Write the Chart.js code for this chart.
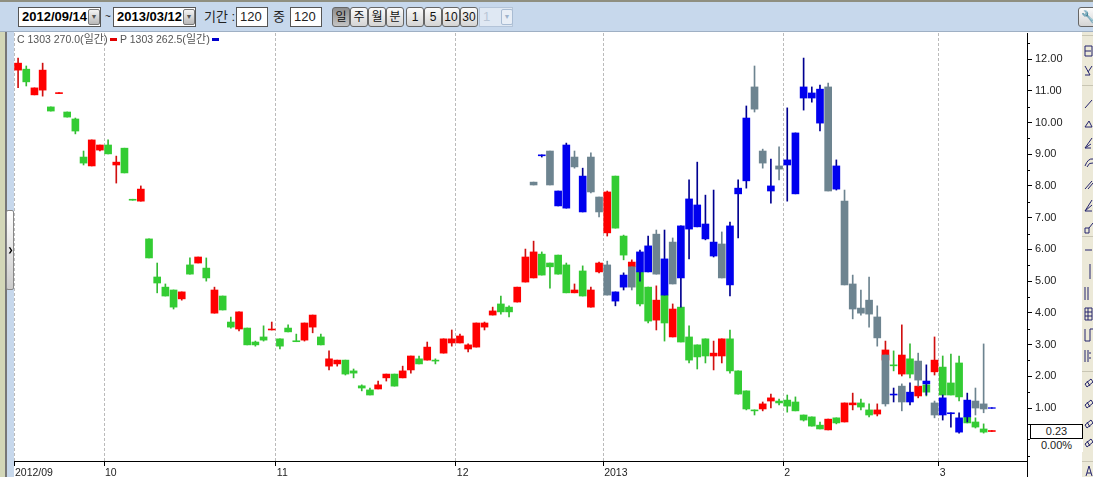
<!DOCTYPE html>
<html>
<head>
<meta charset="utf-8">
<title>C 1303 270.0 / P 1303 262.5</title>
<script src="https://cdn.jsdelivr.net/npm/chart.js@4/dist/chart.umd.min.js"></script>
<style>
	html, body { margin: 0; padding: 0; background: #fff; overflow: hidden; }
	body { position: relative; width: 1093px; height: 477px; font-family: "Liberation Sans", "Noto Sans CJK KR", sans-serif; }
	.abs { position: absolute; box-sizing: border-box; white-space: nowrap; }
	#bar { left: 0; top: 0; width: 1093px; height: 32px; background: #c7d8ec; border-top: 2px solid #8f8f80; border-bottom: 1px solid #9fb0c4; }
	.box { background: #fff; border: 1px solid #555; height: 20px; top: 7px; line-height: 18px; font-size: 13px; padding-left: 3px; color: #222; }
	.date { font-weight: bold; font-size: 13px; color: #000; }
	.drop { top: 9px; width: 12px; height: 16px; background: linear-gradient(#f4f4f4, #b8b8b8); border: 1px solid #777; border-radius: 2px; font-size: 7px; line-height: 14px; text-align: center; color: #555; }
	.lab { top: 7px; font-size: 13px; line-height: 20px; color: #222; }
	.btn { top: 7px; height: 20px; width: 18px; background: linear-gradient(#fbfbfb, #d4d4d4); border: 1px solid #666; border-radius: 3px; font-size: 12px; line-height: 18px; text-align: center; color: #111; }
	.btn.on { background: linear-gradient(#8d8d8d, #c4c4c4); }
	#leftA { left: 0; top: 0; width: 5px; height: 477px; background: #d3d7b8; }
	#leftB { left: 5px; top: 0; width: 2px; height: 477px; background: #777; }
	#leftC { left: 7px; top: 0; width: 7px; height: 477px; background: #c7d8ec; }
	#grip { left: 6px; top: 210px; width: 8px; height: 80px; background: linear-gradient(#fff, #ccc); border: 1px solid #888; border-radius: 2px; font-size: 6px; line-height: 78px; text-align: center; font-weight: bold; color: #000; }
	#side { left: 1082px; top: 32px; width: 11px; height: 445px; background: #ece9d8; }
	.leg { top: 32px; font-size: 10.5px; line-height: 15px; color: #555; }
	.leg b { font-weight: normal; font-size: 11px; }
	.mark { top: 38px; width: 7px; height: 3px; }
	#lastBox { left: 1030px; top: 424px; width: 53px; height: 15px; background: #fff; border: 1px solid #000; font-size: 11px; line-height: 13px; text-align: center; color: #222; }
	#lastPct { left: 1030px; top: 439px; width: 53px; font-size: 11px; line-height: 13px; text-align: center; color: #222; background: #fff; }
</style>
</head>
<body>
	<div class="abs" id="leftA"></div>
	<div class="abs" id="leftB"></div>
	<div class="abs" id="leftC"></div>
	<canvas class="abs" id="chart" width="1084" height="445" style="left:0;top:32px;"></canvas>
	<div class="abs" id="grip">&#10095;</div>

	<div class="abs" id="bar"></div>
	<div class="abs box date" style="left:18px;width:83px;">2012/09/14</div>
	<div class="abs drop" style="left:88px;">&#9660;</div>
	<div class="abs lab" style="left:105px;font-size:10px;">~</div>
	<div class="abs box date" style="left:113px;width:83px;">2013/03/12</div>
	<div class="abs drop" style="left:183px;">&#9660;</div>
	<div class="abs lab" style="left:204px;">기간 :</div>
	<div class="abs box" style="left:236px;width:32px;">120</div>
	<div class="abs lab" style="left:273px;">중</div>
	<div class="abs box" style="left:290px;width:32px;">120</div>
	<div class="abs btn on" style="left:332px;">일</div>
	<div class="abs btn" style="left:350px;">주</div>
	<div class="abs btn" style="left:368px;">월</div>
	<div class="abs btn" style="left:386px;">분</div>
	<div class="abs btn" style="left:406px;">1</div>
	<div class="abs btn" style="left:424px;">5</div>
	<div class="abs btn" style="left:442px;">10</div>
	<div class="abs btn" style="left:460px;">30</div>
	<div class="abs box" style="left:479px;width:34px;background:#dfe8f3;border-color:#b4c4d8;color:#b9c6d6;">1</div>
	<div class="abs drop" style="left:501px;background:#e8eef6;border-color:#a9bcd3;color:#9fb3cc;">&#9660;</div>
	<div class="abs btn" style="left:1078px;width:20px;">&#128295;</div>

	<div class="abs leg" style="left:17px;">C 1303 270.0<b>(일간)</b></div>
	<div class="abs mark" style="left:110px;background:#e00000;"></div>
	<div class="abs leg" style="left:120px;">P 1303 262.5<b>(일간)</b></div>
	<div class="abs mark" style="left:212px;background:#0000cc;"></div>

	<div class="abs" id="side">
		<svg width="11" height="445" fill="none" stroke="#24246e" stroke-width="1">
			<path d="M0 3.5H11M0 53.5H11M0 204.5H11M0 339.5H11M0 429.5H11" stroke="#c9c6b4"/>
			<path d="M3 14H10V24H3ZM3 19H9"/>
			<path d="M3 34L8 43H3M10 34L6 40"/>
			<path d="M3 76L10 68"/>
			<path d="M3 95H10L7 89Z"/>
			<path d="M3 116L10 106M3 116L9 112M3 116H9"/>
			<path d="M3 134Q6 126 11 127M5 135Q7 130 11 131"/>
			<path d="M3 157L10 149M6 157L11 151"/>
			<path d="M3 179L10 168M3 179L10 173M3 179H10"/>
			<path d="M3 196H7V201H3ZM7 196L11 191"/>
			<path d="M3 218H10"/>
			<path d="M8 232V247"/>
			<path d="M3 255V268M6 255V268"/>
			<path d="M3 276H10V288H3ZM3 280H10M3 284H10M6 276V288"/>
			<path d="M3 297V309H8M8 309V297M8 297H11"/>
			<path d="M3 318V330M6 318V330M8 320V322M8 325V327"/>
			<path d="M3 352L9 347L11 350L5 355ZM5 349L8 354"/>
			<path d="M3 373L9 368L11 371L5 376ZM5 370L8 375"/>
			<path d="M3 393L9 388L11 391L5 396ZM5 390L8 395"/>
			<path d="M3 412L9 407L11 410L5 415ZM5 409L8 414"/>
			<path d="M4 444L7 434L10 444M5 441H9"/>
		</svg>
	</div>
	<div class="abs" id="lastBox">0.23</div>
	<div class="abs" id="lastPct">0.00%</div>

<script>
// month starts on the day axis (grid line sits half a day before the candle)
const monthIndex = [0, 11, 32, 54, 72, 94, 113];
const monthText = ['2012/09', '10', '11', '12', '2013', '2', '3'];

const yLabels = [0, 1, 2, 3, 4, 5, 6, 7, 8, 9, 10, 11, 12];
const yHalf = [-0.5, 0.5, 1.5, 2.5, 3.5, 4.5, 5.5, 6.5, 7.5, 8.5, 9.5, 10.5, 11.5, 12.5];

// C 1303 270.0
const callHigh = [
	12.03, 11.78, 11.09, 11.87, 10.49, 10.94, 10.33, 10.14, 9.10, 9.45,
	9.29, 9.45, 8.94, 9.19, 7.58, 8.00, 6.33, 5.57, 4.91, 4.72,
	4.66, 5.73, 5.76, 5.73, 4.81, 4.53, 3.87, 4.03, 3.52, 3.11,
	3.59, 3.71, 3.18, 3.62, 3.33, 3.68, 3.93, 3.33, 2.80, 2.51,
	2.51, 2.23, 1.73, 1.63, 1.85, 2.07, 2.07, 2.32, 2.64, 2.64,
	3.08, 2.55, 3.18, 3.46, 3.33, 3.02, 3.68, 3.71, 4.18, 4.53,
	4.22, 4.81, 6.01, 6.26, 5.92, 5.57, 5.82, 5.57, 4.91, 5.48,
	4.81, 5.60, 7.84, 8.31, 6.45, 5.67, 5.29, 4.81, 4.85, 4.56,
	4.28, 4.18, 3.59, 2.99, 3.18, 3.11, 3.18, 3.46, 2.17, 1.54,
	0.94, 1.19, 1.44, 1.28, 1.41, 1.35, 0.78, 0.72, 0.56, 0.65,
	0.69, 1.16, 1.47, 1.28, 1.13, 1.13, 3.11, 2.80, 3.62, 3.02,
	1.69, 1.73, 3.24, 2.64, 2.70, 2.64, 0.72, 0.69, 0.50, 0.29
];
const callOpen = [
	11.65, 11.68, 10.87, 11.02, 10.49, 10.91, 10.33, 10.11, 8.91, 8.63,
	9.13, 9.29, 8.66, 9.19, 7.58, 7.52, 6.33, 5.13, 4.81, 4.72,
	4.44, 5.51, 5.57, 5.41, 3.99, 4.53, 3.71, 3.49, 3.52, 3.08,
	3.24, 3.46, 3.18, 3.52, 3.12, 3.14, 3.55, 3.24, 2.32, 2.39,
	2.51, 2.17, 1.70, 1.57, 1.60, 1.95, 2.07, 1.95, 2.20, 2.55,
	2.51, 2.51, 2.73, 3.05, 3.05, 2.86, 2.92, 3.55, 3.93, 4.28,
	4.18, 4.34, 4.97, 5.10, 5.85, 5.57, 5.82, 5.51, 4.63, 5.32,
	4.18, 5.29, 6.52, 8.31, 6.42, 5.45, 5.29, 4.81, 3.77, 4.56,
	3.24, 4.18, 3.24, 2.99, 3.18, 2.64, 2.64, 3.18, 2.17, 1.54,
	0.94, 0.97, 1.22, 1.22, 1.25, 1.19, 0.78, 0.72, 0.46, 0.31,
	0.69, 0.56, 1.10, 1.16, 0.94, 0.81, 2.51, 2.36, 2.07, 2.55,
	1.38, 1.73, 2.14, 2.29, 1.79, 2.42, 0.72, 0.56, 0.34, 0.26
];
const callClose = [
	11.87, 11.28, 11.09, 11.65, 10.36, 10.94, 10.17, 9.73, 8.72, 9.45,
	9.29, 9.01, 8.75, 8.41, 7.55, 7.90, 5.73, 4.94, 4.53, 4.18,
	4.66, 5.22, 5.76, 5.10, 4.72, 4.09, 3.55, 4.03, 2.99, 2.99,
	3.14, 3.49, 2.95, 3.40, 3.09, 3.68, 3.93, 2.99, 2.55, 2.51,
	2.07, 2.10, 1.63, 1.41, 1.73, 2.07, 1.69, 2.17, 2.64, 2.39,
	2.92, 2.48, 3.18, 3.18, 3.27, 2.99, 3.68, 3.68, 4.06, 4.03,
	4.03, 4.81, 5.76, 5.92, 5.19, 5.45, 5.22, 4.63, 4.72, 4.53,
	4.72, 5.57, 7.81, 6.67, 5.82, 5.60, 4.28, 3.74, 4.40, 3.68,
	4.12, 3.08, 2.51, 2.61, 2.64, 2.73, 3.18, 2.17, 1.44, 0.97,
	0.91, 1.13, 1.32, 1.16, 1.06, 0.91, 0.62, 0.43, 0.34, 0.65,
	0.53, 1.16, 1.16, 1.03, 0.78, 0.94, 2.83, 2.33, 2.67, 2.07,
	1.69, 1.50, 2.51, 1.41, 1.41, 1.35, 0.53, 0.40, 0.24, 0.29
];
const callLow = [
	11.10, 11.15, 10.87, 10.83, 10.36, 10.91, 10.17, 9.64, 8.66, 8.63,
	9.10, 9.01, 8.09, 8.41, 7.55, 7.52, 5.73, 4.63, 4.53, 4.12,
	4.40, 5.22, 5.57, 5.00, 3.99, 4.09, 3.52, 3.43, 2.99, 2.95,
	3.11, 3.46, 2.86, 3.40, 3.09, 3.11, 3.37, 2.99, 2.20, 2.32,
	2.04, 1.95, 1.54, 1.41, 1.60, 1.85, 1.69, 1.95, 2.10, 2.39,
	2.51, 2.39, 2.73, 2.95, 3.05, 2.77, 2.92, 3.46, 3.93, 3.96,
	3.87, 4.34, 4.97, 5.10, 5.19, 4.78, 5.22, 4.63, 4.63, 4.53,
	4.18, 5.26, 6.42, 6.67, 5.67, 5.45, 4.22, 3.68, 3.46, 3.11,
	3.24, 3.08, 2.42, 2.23, 2.42, 2.20, 2.42, 2.10, 1.44, 0.94,
	0.78, 0.91, 1.00, 1.10, 0.87, 0.91, 0.59, 0.43, 0.34, 0.31,
	0.50, 0.56, 0.94, 0.94, 0.72, 0.75, 2.51, 2.17, 2.01, 1.95,
	1.32, 1.38, 2.04, 1.41, 1.41, 1.22, 0.53, 0.37, 0.21, 0.26
];

// P 1303 262.5, listed only from its first trading day
const putStart = 63;
const putHigh = [
	8.12, 8.98, 9.10, 7.84, 9.35, 9.10, 8.56, 9.04, 7.65, 5.63,
	4.66, 5.26, 5.45, 5.98, 6.42, 6.61, 6.61, 6.36, 6.74, 8.19,
	8.75, 7.71, 7.87, 6.55, 6.86, 8.19, 10.52, 11.78, 9.16, 8.85,
	9.23, 10.46, 9.67, 12.03, 11.12, 11.18, 11.24, 8.82, 7.87, 5.19,
	4.72, 5.13, 4.22, 2.67, 1.63, 1.76, 1.79, 2.73, 2.36, 1.22,
	1.41, 0.85, 0.85, 1.47, 1.63, 3.02, 1.01
];
const putOpen = [
	8.12, 8.95, 9.10, 7.37, 7.30, 8.91, 7.18, 8.91, 7.65, 5.51,
	4.37, 4.81, 5.45, 5.29, 5.29, 6.48, 4.56, 6.23, 5.10, 6.64,
	6.71, 6.33, 5.79, 6.17, 4.88, 7.75, 8.16, 11.12, 9.10, 7.84,
	8.63, 8.66, 7.75, 10.77, 10.77, 9.98, 11.12, 7.90, 7.52, 4.91,
	4.15, 4.40, 3.87, 2.67, 1.41, 1.69, 1.19, 2.48, 1.76, 1.16,
	0.78, 0.82, 0.24, 0.72, 1.22, 1.13, 0.99
];
const putClose = [
	8.03, 8.98, 8.03, 7.84, 9.29, 8.60, 8.31, 7.81, 7.18, 4.56,
	4.66, 5.19, 4.81, 5.92, 6.11, 5.22, 5.70, 4.91, 6.74, 7.59,
	7.40, 6.80, 6.23, 5.10, 6.74, 7.93, 10.14, 10.42, 8.72, 8.00,
	8.53, 8.82, 9.67, 11.12, 10.93, 11.05, 7.84, 8.63, 4.88, 4.12,
	3.99, 3.96, 3.21, 1.13, 1.44, 1.19, 1.50, 1.88, 1.85, 0.78,
	1.32, 0.85, 0.69, 1.25, 1.00, 0.97, 1.01
];
const putLow = [
	8.03, 8.91, 8.03, 7.37, 7.30, 8.56, 7.18, 7.78, 7.02, 4.56,
	4.22, 4.72, 4.72, 5.00, 5.29, 5.22, 4.56, 4.91, 4.18, 5.70,
	6.71, 6.30, 5.76, 5.10, 4.53, 6.36, 7.93, 10.33, 8.56, 7.46,
	8.19, 7.52, 7.75, 10.39, 10.64, 9.73, 7.84, 7.87, 4.88, 3.81,
	3.93, 3.55, 2.95, 1.06, 1.19, 0.91, 1.10, 1.69, 1.41, 0.69,
	0.62, 0.40, 0.21, 0.56, 0.78, 0.85, 0.99
];

// floating bars: the wick is a thin one and the body a wide one
function pairs(a, b, start) {
	return a.map((v, i) => ({ x: start + i, y: [v, b[i]] }));
}
function colors(open, close, up, down) {
	return open.map((v, i) => (close[i] >= v ? up : down));
}
function candle(open, high, low, close, start, up, down, wickUp, wickDown) {
	const body = { data: pairs(open, close, start), backgroundColor: colors(open, close, up, down), barThickness: 7, grouped: false };
	const wick = { data: pairs(low, high, start), backgroundColor: colors(open, close, wickUp, wickDown), barThickness: 1, grouped: false };
	return [body, wick];
}

// half-value ticks are shorter, and the price axis runs on under the date axis
const axisExtras = {
	id: 'axisExtras',
	afterDraw(chart) {
		const ctx = chart.ctx, y = chart.scales.y, right = chart.chartArea.right;
		ctx.save();
		ctx.strokeStyle = '#000';
		ctx.lineWidth = 1;
		ctx.beginPath();
		yHalf.forEach(v => {
			const p = Math.round(y.getPixelForValue(v)) + 0.5;
			ctx.moveTo(right, p);
			ctx.lineTo(right + 3, p);
		});
		ctx.moveTo(Math.round(right) + 0.5, chart.chartArea.bottom);
		ctx.lineTo(Math.round(right) + 0.5, chart.height);
		ctx.stroke();
		ctx.restore();
	}
};

new Chart(document.getElementById('chart'), {
	type: 'bar',
	plugins: [axisExtras],
	data: {
		datasets: [
			...candle(putOpen, putHigh, putLow, putClose, putStart, '#0000ee', '#6d8490', '#000090', '#6d8490'),
			...candle(callOpen, callHigh, callLow, callClose, 0, '#ff0000', '#33cc33', '#d01010', '#33bb33')
		]
	},
	options: {
		responsive: false,
		animation: false,
		devicePixelRatio: 1,
		layout: { padding: { left: 14, top: 1, right: 0, bottom: 0 } },
		plugins: { legend: { display: false }, tooltip: { enabled: false } },
		events: [],
		scales: {
			x: {
				type: 'linear',
				offset: false,
				min: -0.5,
				max: 123.3,
				afterBuildTicks(s) { s.ticks = monthIndex.map(d => ({ value: d - 0.5 })); },
				afterFit(s) { s.height = 16; s.paddingLeft = 0; s.paddingRight = 0; },
				border: { color: '#000', dash: [3, 2] },
				grid: { offset: false, tickLength: 5, color: '#bbbbbb', tickColor: '#000' },
				ticks: {
					autoSkip: false,
					maxRotation: 0,
					minRotation: 0,
					align: 'start',
					labelOffset: 1,
					padding: 1,
					color: '#222',
					font: { family: '"Liberation Sans"', size: 10.5 },
					callback: v => monthText[monthIndex.indexOf(v + 0.5)]
				}
			},
			y: {
				position: 'right',
				min: -0.67,
				max: 12.82,
				afterBuildTicks(s) { s.ticks = yLabels.map(v => ({ value: v })); },
				afterFit(s) { s.width = 57; s.paddingTop = 0; s.paddingBottom = 0; },
				border: { color: '#000' },
				grid: { drawOnChartArea: false, tickLength: 5, tickColor: '#000' },
				ticks: {
					padding: 3,
					color: '#222',
					font: { family: '"Liberation Sans"', size: 11 },
					callback: v => (v === 0 ? '' : v.toFixed(2))
				}
			}
		}
	}
});
</script>
</body>
</html>
